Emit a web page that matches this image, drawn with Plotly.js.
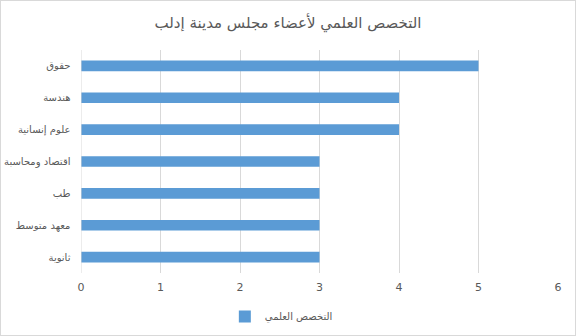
<!DOCTYPE html>
<html><head><meta charset="utf-8">
<script src="https://cdn.plot.ly/plotly-3.0.1.min.js"></script>
<style>html,body{margin:0;padding:0;background:#fff}#c{width:576px;height:336px;box-sizing:border-box;border:1px solid #d9d9d9}</style>
</head><body><div id="c"></div>
<script>
const categories = ["حقوق", "هندسة", "علوم إنسانية", "اقتصاد ومحاسبة", "طب", "معهد متوسط", "ثانوية"];
const values = [5, 4, 4, 3, 3, 3, 3];
const seriesName = "التخصص العلمي";
const chartTitle = "التخصص العلمي لأعضاء مجلس مدينة إدلب";

const trace = {
  type: "bar", orientation: "h",
  y: categories.slice().reverse(), x: values.slice().reverse(),
  name: seriesName, marker: {color: "#5b9bd5"}, showlegend: true
};
const layout = {
  width: 574, height: 334,
  margin: {l: 80, r: 17, t: 49, b: 62, autoexpand: false},
  paper_bgcolor: "#fff", plot_bgcolor: "#fff",
  font: {family: "DejaVu Sans, Arial, sans-serif", size: 10, color: "#595959"},
  title: {text: chartTitle, x: 0.5, xanchor: "center", y: 0.935, yanchor: "middle",
          font: {size: 15, color: "#595959", family: "DejaVu Sans, Arial, sans-serif"}},
  bargap: 0.665,
  xaxis: {range: [0, 6], dtick: 1, showgrid: true, gridcolor: "#d9d9d9", zeroline: false,
          showline: false, ticks: "", ticklabelstandoff: 6, automargin: false,
          tickfont: {size: 11, color: "#595959"}, fixedrange: true},
  yaxis: {type: "category", showgrid: false, zeroline: false, showline: false, ticks: "",
          automargin: false, ticksuffix: "   ", tickfont: {size: 10, color: "#595959"}},
  legend: {orientation: "h", x: 0.42, xanchor: "center", y: -0.195, yanchor: "middle",
           font: {size: 10, color: "#595959"}},
  shapes: [{type: "line", xref: "x", yref: "paper", x0: 0, x1: 0, y0: 0, y1: 1,
            line: {color: "#d9d9d9", width: 1}}]
};
Plotly.newPlot("c", [trace], layout, {displayModeBar: false, staticPlot: true});
</script></body></html>
